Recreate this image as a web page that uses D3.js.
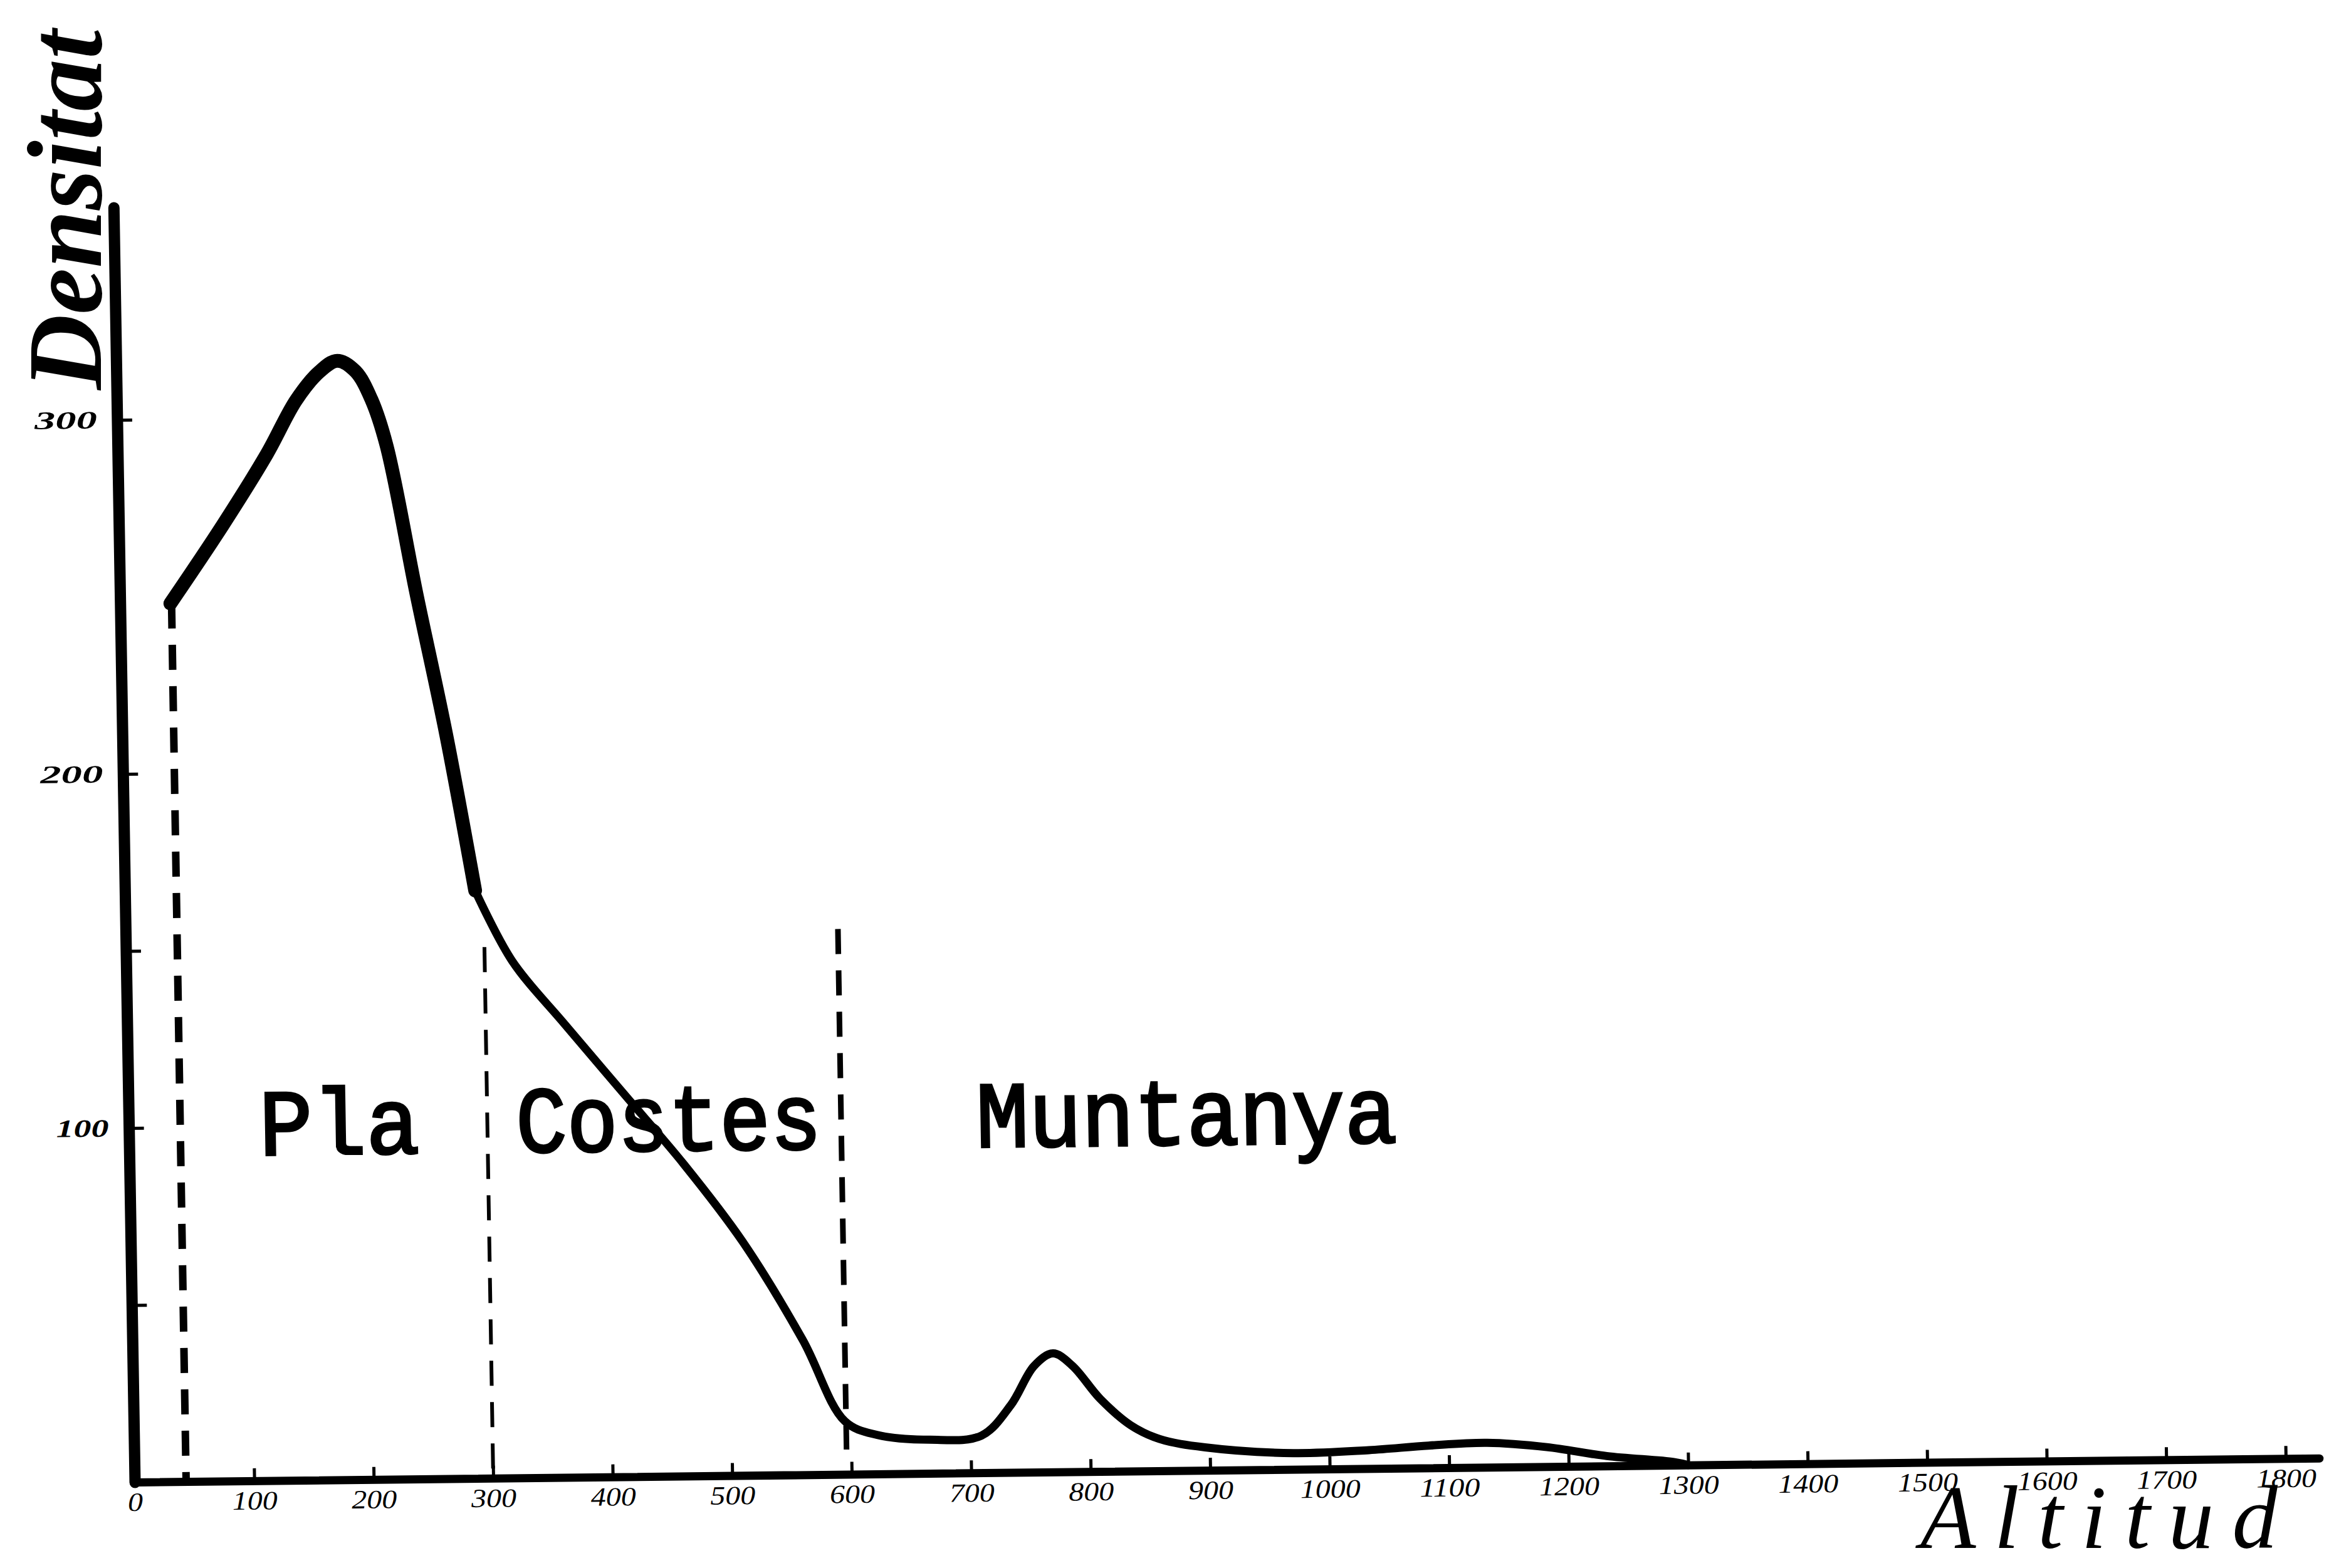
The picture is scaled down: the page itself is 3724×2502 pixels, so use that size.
<!DOCTYPE html>
<html lang="ca">

<head>
    <meta charset="UTF-8">
    <title>Densitat - Altitud</title>
    <style>
        body {
            margin: 0px;
            padding: 0px;
            background-color: white;
        }

        svg {
            display: block;
        }
    </style>
</head>

<body>
    <div id="chart"></div>
    <script src="https://cdn.jsdelivr.net/npm/d3@7"></script>
    <script>

        // corba de densitat llegida del gràfic
        const altitud = [42, 87, 125, 150, 170, 185, 200, 213, 225, 248, 271, 293, 323, 366, 415, 464, 512, 561, 595, 622, 666, 709, 734, 754, 770, 786, 809, 834, 858, 896, 970, 1033, 1083, 1132, 1182, 1232, 1288, 1300]
        const densitat = [248, 270, 290, 305, 313, 316, 313, 305, 292, 250, 210, 166, 146, 128, 108, 88, 66, 38, 15, 11, 9.5, 10.5, 19, 30, 33.5, 30, 20.5, 13, 9, 6.5, 4.6, 5.2, 6.3, 6.9, 5.5, 2.8, 0.9, 0]

        const xTicks = [0, 100, 200, 300, 400, 500, 600, 700, 800, 900, 1000, 1100, 1200, 1300, 1400, 1500, 1600, 1700, 1800]
        const yTicks = [50, 100, 150, 200, 300]
        const yLabels = [100, 200, 300]

        // zones i límits (altitud / densitat)
        const zones = ['Pla', 'Costes', 'Muntanya']
        const zoneStart = [109, 324, 709]
        const zoneLevel = 92
        const limitAlt = [43, 300, 596]
        const limitTop = [248, 150, 154]
        const limitBottom = [0, 0, 7]

        const w = 3724
        const h = 2502
        const ox = 215
        const oy = 2365

        const x = d3.scaleLinear()
        x.domain([0, 1828])
        x.range([ox, ox + 18.28 * 190.7])

        const y = d3.scaleLinear()
        y.domain([0, 360])
        y.range([oy, oy - 3.6 * 565])

        const svg = d3.select('#chart')
            .append('svg')
            .attr('width', w)
            .attr('height', h)

        svg.append('rect').attr('width', w).attr('height', h).attr('fill', 'white')

        // dibuixat a mà: eixos una mica torts
        const g = svg.append('g')
            .attr('transform', `translate(${ox},${oy}) skewX(0.95) skewY(-0.63) translate(${-ox},${-oy})`)

        // línies de límit
        g.selectAll('.limit')
            .data(limitAlt)
            .join('line')
            .attr('class', 'limit')
            .attr('x1', d => x(d))
            .attr('x2', d => x(d))
            .attr('y1', (d, i) => y(limitTop[i]))
            .attr('y2', (d, i) => y(limitBottom[i]))
            .attr('stroke', 'black')
            .attr('stroke-width', (d, i) => [12, 6, 9][i])
            .attr('stroke-dasharray', '40 26')

        // noms de zona
        g.selectAll('.zone')
            .data(zones)
            .join('text')
            .attr('class', 'zone')
            .attr('x', (d, i) => x(zoneStart[i]))
            .attr('y', y(zoneLevel))
            .attr('font-family', "'Liberation Mono', 'DejaVu Sans Mono', monospace")
            .attr('font-size', 150)
            .attr('textLength', (d, i) => [256, 487, 672][i])
            .attr('lengthAdjust', 'spacingAndGlyphs')
            .attr('fill', 'black')
            .attr('stroke', 'black')
            .attr('stroke-width', 4)
            .text(d => d)

        // eixos
        const yAxis = d3.axisLeft(y)
            .tickValues(yTicks)
            .tickSizeInner(-24)
            .tickSizeOuter(0)
            .tickPadding(32)
            .tickFormat(d => yLabels.includes(d) ? d : '')

        const xAxis = d3.axisBottom(x)
            .tickValues(xTicks)
            .tickSizeInner(-20)
            .tickSizeOuter(0)
            .tickPadding(16)
            .tickFormat(d3.format('d'))

        const gy = g.append('g')
            .attr('transform', `translate(${ox},0)`)
            .call(yAxis)
        gy.select('.domain').attr('stroke-width', 18).attr('stroke-linecap', 'round')
        gy.selectAll('.tick line').attr('stroke-width', 5)
        gy.selectAll('.tick text')
            .attr('font-family', "'Liberation Serif', serif")
            .attr('font-style', 'italic')
            .attr('font-weight', 'bold')
            .attr('font-size', 40)
            .attr('textLength', d => d === 100 ? 84 : 100)
            .attr('lengthAdjust', 'spacingAndGlyphs')

        const gx = g.append('g')
            .attr('transform', `translate(0,${oy})`)
            .call(xAxis)
        gx.select('.domain').attr('stroke-width', 13).attr('stroke-linecap', 'round')
        gx.selectAll('.tick line').attr('stroke-width', 5)
        gx.selectAll('.tick text')
            .attr('font-family', "'Liberation Serif', serif")
            .attr('font-style', 'italic')
            .attr('font-size', 42)
            .attr('textLength', d => String(d).length * 24)
            .attr('lengthAdjust', 'spacingAndGlyphs')

        // corba: tram gruixut fins al colze de 293 m, després més prim
        const pts = altitud.map((a, i) => [a, densitat[i]])
        const line = d3.line()
            .x(d => x(d[0]))
            .y(d => y(d[1]))
            .curve(d3.curveCatmullRom.alpha(0.5))

        g.append('path')
            .datum(pts.filter(d => d[0] <= 293))
            .attr('d', line)
            .attr('fill', 'none')
            .attr('stroke', 'black')
            .attr('stroke-width', 22)
            .attr('stroke-linecap', 'round')
            .attr('stroke-linejoin', 'round')

        g.append('path')
            .datum(pts.filter(d => d[0] >= 293))
            .attr('d', line)
            .attr('fill', 'none')
            .attr('stroke', 'black')
            .attr('stroke-width', 13)
            .attr('stroke-linecap', 'round')
            .attr('stroke-linejoin', 'round')

        // títols dels eixos
        svg.append('text')
            .attr('transform', 'translate(161,335) rotate(-90)')
            .attr('text-anchor', 'middle')
            .attr('font-family', "'Liberation Serif', serif")
            .attr('font-style', 'italic')
            .attr('font-weight', 'bold')
            .attr('font-size', 170)
            .attr('textLength', 574)
            .attr('lengthAdjust', 'spacingAndGlyphs')
            .text('Densitat')

        svg.append('text')
            .attr('x', 3064)
            .attr('y', 2470)
            .attr('font-family', "'Liberation Serif', serif")
            .attr('font-style', 'italic')
            .attr('font-size', 145)
            .attr('textLength', 570)
            .attr('lengthAdjust', 'spacing')
            .text('Altitud')

    </script>
</body>

</html>
